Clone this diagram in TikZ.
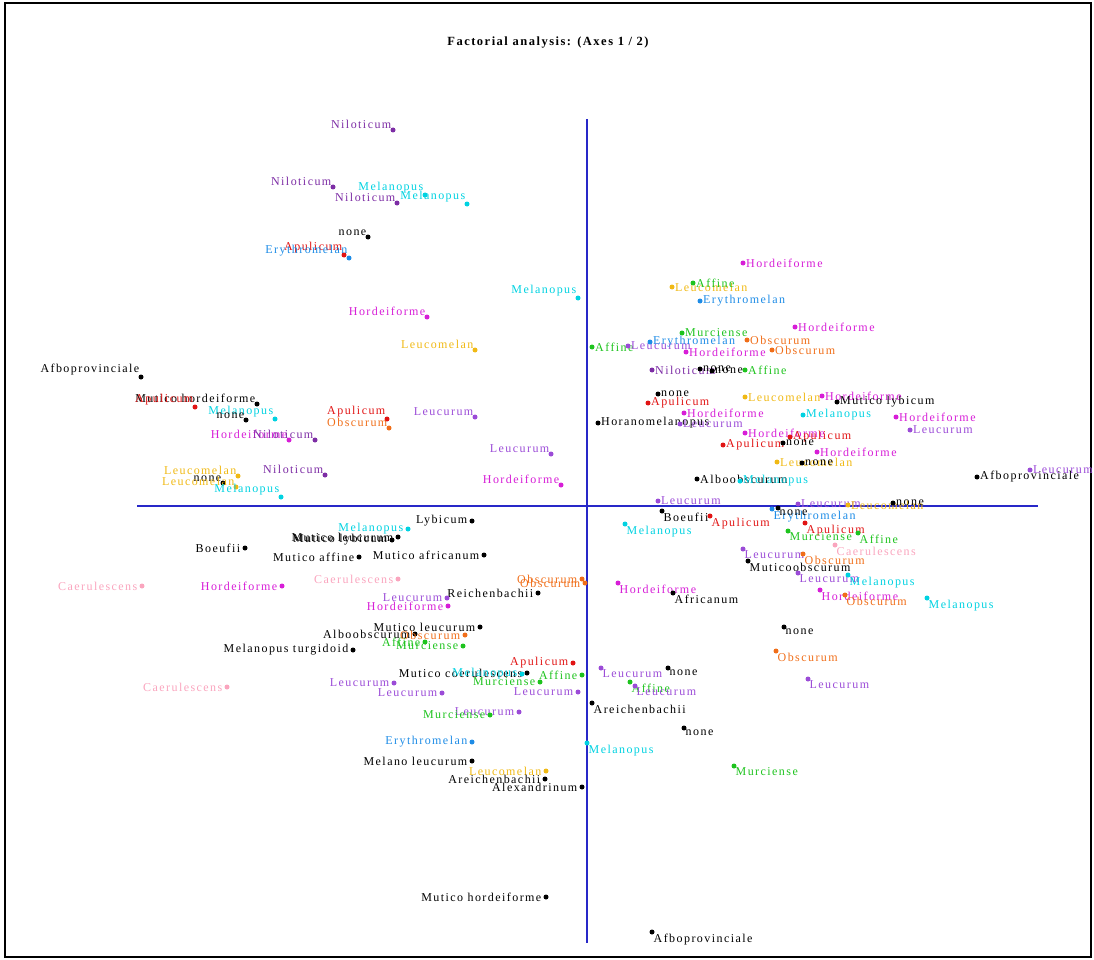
\documentclass[tikz,border=0pt]{standalone}
\usepackage{fontspec}
\setmainfont{Liberation Serif}
\newfontfamily\plotfont[LetterSpace=12]{Liberation Serif}
\usetikzlibrary{positioning}
\definecolor{nilo}{RGB}{125,45,165}
\definecolor{leuc}{RGB}{155,75,215}
\definecolor{hord}{RGB}{215,30,215}
\definecolor{cyanc}{RGB}{0,210,225}
\definecolor{bluec}{RGB}{30,140,230}
\definecolor{redc}{RGB}{225,20,20}
\definecolor{gold}{RGB}{240,185,20}
\definecolor{orangec}{RGB}{240,110,25}
\definecolor{greenc}{RGB}{30,195,30}
\definecolor{pinkc}{RGB}{250,165,190}
\definecolor{blk}{RGB}{0,0,0}
\definecolor{axisblue}{RGB}{40,40,200}

\begin{document}
\begin{tikzpicture}[
    x=1pt, y=-1pt,
    font=\plotfont\fontsize{12}{14}\selectfont,
    pt/.style={circle, fill, inner sep=0pt, minimum size=5pt},
    lab/.style={inner sep=1.5pt},
    lab-ul/.style={anchor=south east},
    lab-l/.style={anchor=east, xshift=-3pt},
    lab-r/.style={anchor=west, xshift=1.5pt},
    lab-dr/.style={anchor=north west},
    axis/.style={axisblue, line width=1.2pt}
]
\useasboundingbox (0,0) rectangle (1094,960);
\draw[line width=2.5pt] (5,3) rectangle (1091,957);
\node[font=\plotfont\bfseries\fontsize{12.5}{15}\selectfont] (title) at (548,43) {Factorial analysis: (Axes 1 / 2)};

% axes
\coordinate (ytop) at (587,119);
\coordinate (ybot) at (587,943);
\coordinate (xleft) at (137,506);
\coordinate (xright) at (1038,506);
\draw[axis] (ytop) -- (ybot);
\draw[axis] (xleft) -- (xright);

% points: x/y/colour/label/placement
\foreach \x/\y/\c/\t/\a [count=\i] in {
  393/130/nilo/Niloticum/lab-ul, 333/187/nilo/Niloticum/lab-ul,
  397/203/nilo/Niloticum/lab-ul, 425/195/cyanc/Melanopus/lab-ul,
  467/204/cyanc/Melanopus/lab-ul, 368/237/blk/none/lab-ul,
  344/255/redc/Apulicum/lab-ul, 349/258/bluec/Erythromelan/lab-ul,
  578/298/cyanc/Melanopus/lab-ul, 427/317/hord/Hordeiforme/lab-ul,
  475/350/gold/Leucomelan/lab-ul, 141/377/blk/Afboprovinciale/lab-ul,
  257/404/blk/Mutico hordeiforme/lab-ul, 195/407/redc/Apulicum/lab-ul,
  275/419/cyanc/Melanopus/lab-ul, 246/420/blk/none/lab-ul,
  289/440/hord/Hordeiforme/lab-ul, 315/440/nilo/Niloticum/lab-ul,
  325/475/nilo/Niloticum/lab-ul, 238/476/gold/Leucomelan/lab-ul,
  223/483/blk/none/lab-ul, 236/487/gold/Leucomelan/lab-ul,
  281/497/cyanc/Melanopus/lab-ul, 387/419/redc/Apulicum/lab-ul,
  389/428/orangec/Obscurum/lab-ul, 475/417/leuc/Leucurum/lab-ul,
  551/454/leuc/Leucurum/lab-ul, 561/485/hord/Hordeiforme/lab-ul,
  472/521/blk/Lybicum/lab-l, 408/529/cyanc/Melanopus/lab-l,
  398/537/blk/Mutico leucurum/lab-l, 392/540/blk/Mutico lybicum/lab-l,
  359/557/blk/Mutico affine/lab-l, 484/555/blk/Mutico africanum/lab-l,
  245/548/blk/Boeufii/lab-l, 142/586/pinkc/Caerulescens/lab-l,
  282/586/hord/Hordeiforme/lab-l, 398/579/pinkc/Caerulescens/lab-l,
  582/579/orangec/Obscurum/lab-l, 585/583/orangec/Obscurum/lab-l,
  538/593/blk/Reichenbachii/lab-l, 447/598/leuc/Leucurum/lab-l,
  448/606/hord/Hordeiforme/lab-l, 480/627/blk/Mutico leucurum/lab-l,
  415/634/blk/Alboobscurum/lab-l, 465/635/orangec/Obscurum/lab-l,
  425/642/greenc/Affine/lab-l, 463/646/greenc/Murciense/lab-l,
  353/650/blk/Melanopus turgidoid/lab-l, 573/663/redc/Apulicum/lab-l,
  527/673/blk/Mutico coerulescens/lab-l, 522/674/cyanc/Melanopus/lab-l,
  582/675/greenc/Affine/lab-l, 540/682/greenc/Murciense/lab-l,
  394/683/leuc/Leucurum/lab-l, 442/693/leuc/Leucurum/lab-l,
  578/692/leuc/Leucurum/lab-l, 227/687/pinkc/Caerulescens/lab-l,
  519/712/leuc/Leucurum/lab-l, 490/715/greenc/Murciense/lab-l,
  472/742/bluec/Erythromelan/lab-l, 472/761/blk/Melano leucurum/lab-l,
  546/771/gold/Leucomelan/lab-l, 545/779/blk/Areichenbachii/lab-l,
  582/787/blk/Alexandrinum/lab-l, 546/897/blk/Mutico hordeiforme/lab-l,
  743/263/hord/Hordeiforme/lab-r, 672/287/gold/Leucomelan/lab-r,
  693/283/greenc/Affine/lab-r, 700/301/bluec/Erythromelan/lab-r,
  682/333/greenc/Murciense/lab-r, 592/347/greenc/Affine/lab-r,
  628/346/leuc/Leucurum/lab-r, 650/342/bluec/Erythromelan/lab-r,
  686/352/hord/Hordeiforme/lab-r, 747/340/orangec/Obscurum/lab-r,
  772/350/orangec/Obscurum/lab-r, 795/327/hord/Hordeiforme/lab-r,
  652/370/nilo/Niloticum/lab-r, 700/369/blk/none/lab-r,
  712/371/blk/none/lab-r, 745/370/greenc/Affine/lab-r,
  658/394/blk/none/lab-r, 648/403/redc/Apulicum/lab-r,
  684/413/hord/Hordeiforme/lab-r, 745/397/gold/Leucomelan/lab-r,
  822/396/hord/Hordeiforme/lab-r, 837/402/blk/Mutico lybicum/lab-r,
  803/415/cyanc/Melanopus/lab-r, 896/417/hord/Hordeiforme/lab-r,
  910/430/leuc/Leucurum/lab-r, 598/423/blk/Horanomelanopus/lab-r,
  680/424/leuc/Leucurum/lab-r, 745/433/hord/Hordeiforme/lab-r,
  723/445/redc/Apulicum/lab-r, 790/437/redc/Apulicum/lab-r,
  783/443/blk/none/lab-r, 817/452/hord/Hordeiforme/lab-r,
  777/462/gold/Leucomelan/lab-r, 802/463/blk/none/lab-r,
  697/479/blk/Alboobscurum/lab-r, 740/481/cyanc/Melanopus/lab-r,
  977/477/blk/Afboprovinciale/lab-r, 1030/470/leuc/Leucurum/lab-r,
  658/501/leuc/Leucurum/lab-r, 798/504/leuc/Leucurum/lab-r,
  848/505/gold/Leucomelan/lab-r, 893/503/blk/none/lab-r,
  662/511/blk/Boeufii/lab-dr, 710/516/redc/Apulicum/lab-dr,
  625/524/cyanc/Melanopus/lab-dr, 772/509/bluec/Erythromelan/lab-dr,
  778/508/blk/none/lab-dr, 805/523/redc/Apulicum/lab-dr,
  788/531/greenc/Murciense/lab-dr, 858/533/greenc/Affine/lab-dr,
  835/545/pinkc/Caerulescens/lab-dr, 743/549/leuc/Leucurum/lab-dr,
  803/554/orangec/Obscurum/lab-dr, 748/561/blk/Muticoobscurum/lab-dr,
  798/573/leuc/Leucurum/lab-dr, 848/575/cyanc/Melanopus/lab-dr,
  820/590/hord/Hordeiforme/lab-dr, 845/595/orangec/Obscurum/lab-dr,
  927/598/cyanc/Melanopus/lab-dr, 618/583/hord/Hordeiforme/lab-dr,
  673/593/blk/Africanum/lab-dr, 784/627/blk/none/lab-dr,
  776/651/orangec/Obscurum/lab-dr, 808/679/leuc/Leucurum/lab-dr,
  601/668/leuc/Leucurum/lab-dr, 668/668/blk/none/lab-dr,
  630/682/greenc/Affine/lab-dr, 635/686/leuc/Leucurum/lab-dr,
  592/703/blk/Areichenbachii/lab-dr, 684/728/blk/none/lab-dr,
  587/743/cyanc/Melanopus/lab-dr, 734/766/greenc/Murciense/lab-dr,
  652/932/blk/Afboprovinciale/lab-dr}
{
  \node[pt, fill=\c] (p\i) at (\x,\y) {};
  \node[lab, text=\c, \a] (t\i) at (p\i.center) {\t};
}
\end{tikzpicture}
\end{document}
